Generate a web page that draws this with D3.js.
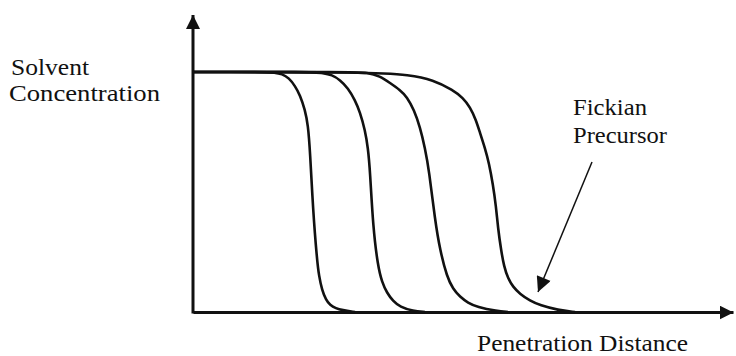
<!DOCTYPE html>
<html>
<head>
<meta charset="utf-8">
<script src="https://cdn.jsdelivr.net/npm/d3@7"></script>
<style>
  body { margin: 0; background: #fff; }
</style>
</head>
<body>
<svg id="chart" width="736" height="356"></svg>
<script>
// concentration profiles, [distance, concentration]
let curve1 = [[0,1],[70,1],[82,0.998],[89,0.992],[96,0.975],[102,0.942],[107,0.904],[112,0.842],[115,0.779],[117,0.675],[120,0.425],[124,0.217],[126,0.15],[129,0.092],[133,0.05],[137,0.029],[143,0.015],[149,0.008],[162,0]];
let curve2 = [[0,1],[120,1],[130,0.996],[139,0.988],[147,0.967],[155,0.933],[162,0.883],[167,0.833],[172,0.758],[175,0.683],[177,0.592],[180,0.354],[185,0.188],[189,0.125],[194,0.079],[200,0.046],[207,0.021],[220,0.004],[232,0]];
let curve3 = [[0,1],[160,1],[174,0.998],[187,0.983],[197,0.954],[207,0.925],[214,0.896],[221,0.842],[227,0.771],[232,0.683],[236,0.592],[242,0.383],[247,0.258],[254,0.146],[260,0.096],[267,0.063],[275,0.038],[284,0.021],[304,0.004],[315,0]];
let curve4 = [[0,1],[177,1],[217,0.988],[240,0.967],[260,0.925],[270,0.892],[277,0.854],[283,0.8],[287,0.746],[292,0.683],[296,0.62],[300,0.53],[303,0.44],[305,0.35],[308,0.26],[311,0.19],[315,0.14],[320,0.105],[327,0.075],[337,0.047],[347,0.028],[365,0.008],[382,0]];
let curves = [curve1, curve2, curve3, curve4];

// annotation arrow (from label down to foot of last profile)
let arrowFrom = [399, 0.625];
let arrowTo = [345, 0.083];

let yLabel = ["Solvent", "Concentration"];
let xLabel = "Penetration Distance";
let noteLabel = ["Fickian", "Precursor"];

//margins
let margin = {top: 72, right: 3, bottom: 44, left: 193},
    width = 736 - margin.left - margin.right,
    height = 356 - margin.top - margin.bottom;

let svg = d3.select("#chart");

//arrowheads
let defs = svg.append("defs");
defs.append("marker")
    .attr("id", "head")
    .attr("viewBox", "0 0 10 10")
    .attr("refX", 10).attr("refY", 5)
    .attr("markerWidth", 14).attr("markerHeight", 14)
    .attr("markerUnits", "userSpaceOnUse")
    .attr("orient", "auto")
    .append("path")
    .attr("d", "M0,0 L10,5 L0,10 Z")
    .attr("fill", "#111");
defs.append("marker")
    .attr("id", "head2")
    .attr("viewBox", "0 0 10 10")
    .attr("refX", 10).attr("refY", 5)
    .attr("markerWidth", 17).attr("markerHeight", 15)
    .attr("markerUnits", "userSpaceOnUse")
    .attr("orient", "auto")
    .append("path")
    .attr("d", "M0,0 L10,5 L0,10 Z")
    .attr("fill", "#111");

let g = svg.append("g")
    .attr("transform", "translate(" + margin.left + "," + margin.top + ")");

//scales
let x = d3.scaleLinear().domain([0, width]).range([0, width]);
let y = d3.scaleLinear().domain([0, 1]).range([height, 0]);

//axes without ticks
let xAxis = g.append("g")
    .attr("transform", "translate(0," + height + ")")
    .call(d3.axisBottom(x).tickValues([]).tickSizeOuter(0));
xAxis.select(".domain")
    .attr("stroke", "#111").attr("stroke-width", 3)
    .attr("marker-end", "url(#head)");

let yAxis = g.append("g")
    .call(d3.axisLeft(y).tickValues([]).tickSizeOuter(0));
yAxis.select(".domain").remove();
yAxis.append("line")
    .attr("x1", 0).attr("x2", 0)
    .attr("y1", height + 1.5).attr("y2", -57)
    .attr("stroke", "#111").attr("stroke-width", 3)
    .attr("marker-end", "url(#head)");

//profiles
let line = d3.line()
    .x(function(d) { return x(d[0]); })
    .y(function(d) { return y(d[1]); })
    .curve(d3.curveBasis);

g.selectAll(".profile")
    .data(curves)
    .enter().append("path")
    .attr("class", "profile")
    .attr("d", line)
    .attr("fill", "none")
    .attr("stroke", "#111")
    .attr("stroke-width", 2.6);

//annotation arrow
g.append("line")
    .attr("x1", x(arrowFrom[0])).attr("y1", y(arrowFrom[1]))
    .attr("x2", x(arrowTo[0])).attr("y2", y(arrowTo[1]))
    .attr("stroke", "#111").attr("stroke-width", 1.5)
    .attr("marker-end", "url(#head2)");

//labels
function label(txt, px, py, len) {
    svg.append("text")
        .attr("x", px).attr("y", py)
        .attr("font-family", "Liberation Serif")
        .attr("font-size", 23)
        .attr("fill", "#111")
        .attr("textLength", len).attr("lengthAdjust", "spacingAndGlyphs")
        .text(txt);
}
label(yLabel[0], 11, 75, 78);
label(yLabel[1], 9, 101, 151);
label(noteLabel[0], 573, 115, 74);
label(noteLabel[1], 573, 143, 94);
label(xLabel, 477, 351, 211);
</script>
</body>
</html>
